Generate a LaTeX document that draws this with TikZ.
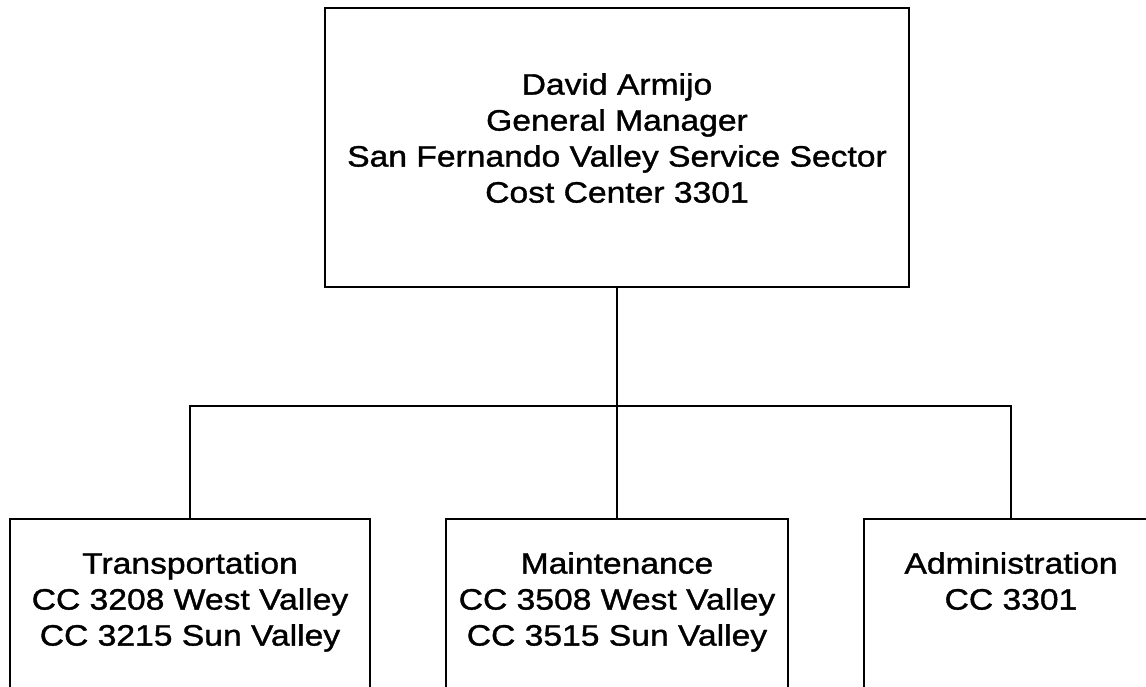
\documentclass[tikz,border=0pt]{standalone}
\usepackage{fontspec}
\setmainfont[FakeStretch=1.14,FakeBold=1.2]{Liberation Sans}
\begin{document}
\begin{tikzpicture}[x=1pt,y=-1pt,
  box/.style={draw, line width=2.4pt, inner sep=0pt},
  conn/.style={line width=2.4pt},
  txt/.style={align=center, inner sep=0pt, font=\fontsize{29.5}{36}\selectfont}]
\useasboundingbox (0,0) rectangle (1146,686);
\fill[white] (0,0) rectangle (1146,686);
\clip (0,0) rectangle (1146,686);
% boxes
\node[box, minimum width=584pt, minimum height=279pt] (gm) at (617,147.5) {};
\node[box, anchor=north, minimum width=360pt, minimum height=260pt] (trans) at (190,518) {};
\node[box, anchor=north, minimum width=342pt, minimum height=260pt] (maint) at (617,518) {};
\node[box, anchor=north, minimum width=294pt, minimum height=260pt] (admin) at (1011,518) {};
% texts
\node[txt, anchor=north] (gmtext) at (617,73) {David Armijo\\General Manager\\San Fernando Valley Service Sector\\Cost Center 3301};
\node[txt, anchor=north] (transtext) at (190,552) {Transportation\\CC 3208 West Valley\\CC 3215 Sun Valley};
\node[txt, anchor=north] (mainttext) at (617,552) {Maintenance\\CC 3508 West Valley\\CC 3515 Sun Valley};
\node[txt, anchor=north] (admintext) at (1011,552) {Administration\\CC 3301};
% connectors
\coordinate (j) at (617,406);
\draw[conn] (gm.south) -- (maint.north);
\draw[conn] (trans.north) |- (j) -| (admin.north);
\end{tikzpicture}
\end{document}
